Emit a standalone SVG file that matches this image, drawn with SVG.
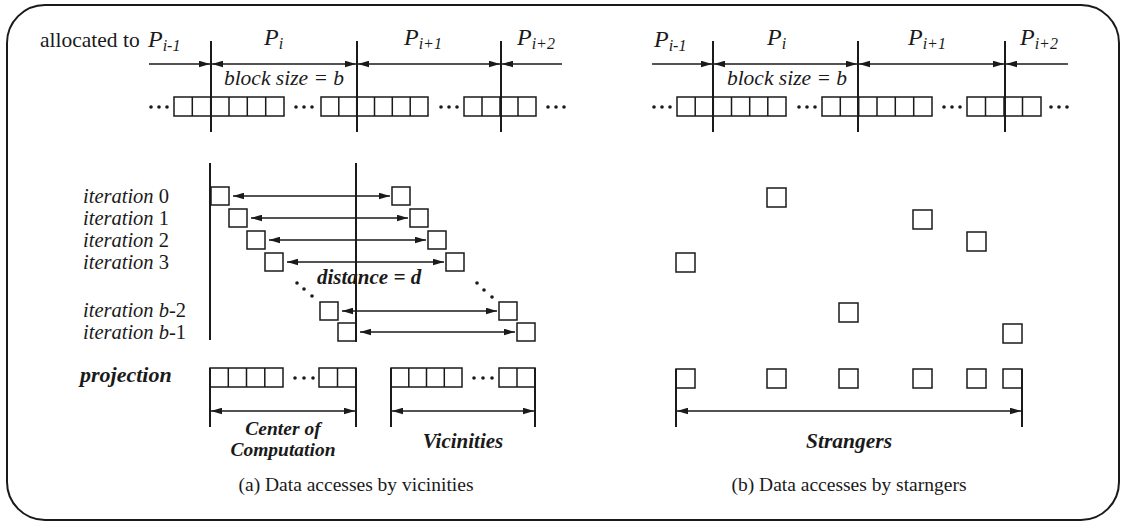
<svg xmlns="http://www.w3.org/2000/svg" width="1125" height="523" viewBox="0 0 1125 523">
<defs>
<marker id="ah" viewBox="0 0 10 6" refX="10" refY="3" markerWidth="11" markerHeight="7" markerUnits="userSpaceOnUse" orient="auto-start-reverse">
<path d="M0,0 L10,3 L0,6 z" fill="#1a1a1a"/>
</marker>
</defs>
<style>
.t{font-family:"Liberation Serif","Times New Roman",serif;fill:#1a1a1a}
.it{font-style:italic}
.bi{font-style:italic;font-weight:bold}
.cap{font-size:19.5px}
.lab{font-size:21.5px}
.lab2{font-size:21px}
.itl{font-size:20.5px}
.P{font-size:24px;font-style:italic}
.sub{font-size:16px}
.cell{fill:none;stroke:#1a1a1a;stroke-width:1.5}
.vl{stroke:#1a1a1a;stroke-width:2;fill:none}
.ar{stroke:#1a1a1a;stroke-width:1.5;fill:none}
.dot{fill:#1a1a1a}
</style>
<rect x="7" y="5" width="1112" height="515" rx="38" fill="#fff" stroke="#1a1a1a" stroke-width="2"/>

<!-- ===== Panel (a) ===== -->
<g id="a-header">
<text class="t lab" x="40" y="47">allocated to</text>
<text class="t P" x="148" y="47">P<tspan class="sub" dy="4">i-1</tspan></text>
<text class="t P" x="264" y="45">P<tspan class="sub" dy="4">i</tspan></text>
<text class="t P" x="404" y="45">P<tspan class="sub" dy="4">i+1</tspan></text>
<text class="t P" x="517" y="45">P<tspan class="sub" dy="4">i+2</tspan></text>
<text class="t it lab" x="284" y="85" text-anchor="middle">block size = b</text>
</g>
<g id="a-dividers">
<line class="vl" x1="211" y1="41" x2="211" y2="132"/>
<line class="vl" x1="357" y1="41" x2="357" y2="132"/>
<line class="vl" x1="501" y1="41" x2="501" y2="132"/>
</g>
<g id="a-array">
<rect class="cell" x="174" y="97" width="110" height="19"/>
<path class="cell" d="M192.3,97v19M210.7,97v19M229,97v19M247.3,97v19M265.7,97v19"/>
<rect class="cell" x="321" y="97" width="107" height="19"/>
<path class="cell" d="M338.8,97v19M356.7,97v19M374.5,97v19M392.3,97v19M410.2,97v19"/>
<rect class="cell" x="464" y="97" width="72" height="19"/>
<path class="cell" d="M482,97v19M500,97v19M518,97v19"/>
<circle class="dot" cx="151" cy="107" r="1.8"/><circle class="dot" cx="159" cy="107" r="1.8"/><circle class="dot" cx="167" cy="107" r="1.8"/>
<circle class="dot" cx="296" cy="107" r="1.8"/><circle class="dot" cx="304" cy="107" r="1.8"/><circle class="dot" cx="312" cy="107" r="1.8"/>
<circle class="dot" cx="441" cy="107" r="1.8"/><circle class="dot" cx="449" cy="107" r="1.8"/><circle class="dot" cx="457" cy="107" r="1.8"/>
<circle class="dot" cx="548" cy="107" r="1.8"/><circle class="dot" cx="556" cy="107" r="1.8"/><circle class="dot" cx="564" cy="107" r="1.8"/>
</g>

<g id="a-iterations">
<line class="vl" x1="210" y1="163" x2="210" y2="340"/>
<line class="vl" x1="356" y1="163" x2="356" y2="342"/>
<text class="t it itl" x="83" y="203">iteration <tspan font-style="normal">0</tspan></text>
<text class="t it itl" x="83" y="225">iteration <tspan font-style="normal">1</tspan></text>
<text class="t it itl" x="83" y="247">iteration <tspan font-style="normal">2</tspan></text>
<text class="t it itl" x="83" y="269">iteration <tspan font-style="normal">3</tspan></text>
<text class="t it itl" x="83" y="317">iteration b<tspan font-style="normal">-2</tspan></text>
<text class="t it itl" x="83" y="339">iteration b<tspan font-style="normal">-1</tspan></text>
</g>
<g id="a-center-boxes">
<rect class="cell" x="211" y="187" width="18" height="18"/>
<rect class="cell" x="229" y="209" width="18" height="18"/>
<rect class="cell" x="247" y="231" width="18" height="18"/>
<rect class="cell" x="265" y="253" width="18" height="18"/>
<rect class="cell" x="320" y="302" width="18" height="18"/>
<rect class="cell" x="338" y="323" width="18" height="18"/>
<circle class="dot" cx="297" cy="283" r="1.8"/><circle class="dot" cx="304" cy="289" r="1.8"/><circle class="dot" cx="312" cy="296" r="1.8"/>
</g>
<g id="a-vicinity-boxes">
<rect class="cell" x="392" y="187" width="18" height="18"/>
<rect class="cell" x="410" y="209" width="18" height="18"/>
<rect class="cell" x="428" y="231" width="18" height="18"/>
<rect class="cell" x="446" y="253" width="18" height="18"/>
<rect class="cell" x="499" y="302" width="18" height="18"/>
<rect class="cell" x="517" y="323" width="18" height="18"/>
<circle class="dot" cx="477" cy="283" r="1.8"/><circle class="dot" cx="484" cy="290" r="1.8"/><circle class="dot" cx="492" cy="297" r="1.8"/>
</g>
<g id="a-distance-label">
<text class="t bi lab2" x="317" y="284">distance = d</text>
</g>

<g id="a-projection">
<text class="t bi" font-size="22px" x="80" y="382">projection</text>
<rect class="cell" x="210" y="368" width="73" height="19"/>
<path class="cell" d="M228.3,368v19M246.5,368v19M264.8,368v19"/>
<circle class="dot" cx="295" cy="378" r="1.8"/><circle class="dot" cx="304" cy="378" r="1.8"/><circle class="dot" cx="313" cy="378" r="1.8"/>
<rect class="cell" x="319" y="368" width="37" height="19"/>
<path class="cell" d="M337.5,368v19"/>
<line class="vl" x1="210" y1="368" x2="210" y2="427"/>
<line class="vl" x1="356" y1="368" x2="356" y2="427"/>
<text class="t bi" font-size="19.5px" text-anchor="middle"><tspan x="283" y="435">Center of</tspan><tspan x="283" y="456">Computation</tspan></text>
<rect class="cell" x="391" y="368" width="71" height="19"/>
<path class="cell" d="M408.8,368v19M426.5,368v19M444.3,368v19"/>
<circle class="dot" cx="474" cy="378" r="1.8"/><circle class="dot" cx="483" cy="378" r="1.8"/><circle class="dot" cx="492" cy="378" r="1.8"/>
<rect class="cell" x="499" y="368" width="36" height="19"/>
<path class="cell" d="M517,368v19"/>
<line class="vl" x1="391" y1="368" x2="391" y2="427"/>
<line class="vl" x1="535" y1="368" x2="535" y2="427"/>
<text class="t bi lab2" x="463" y="448" text-anchor="middle">Vicinities</text>
</g>
<g id="a-caption">
<text class="t cap" x="356" y="491" text-anchor="middle">(a) Data accesses by vicinities</text>
</g>

<!-- ===== Panel (b) ===== -->
<g id="b-header">
<text class="t P" x="654" y="47">P<tspan class="sub" dy="4">i-1</tspan></text>
<text class="t P" x="767" y="45">P<tspan class="sub" dy="4">i</tspan></text>
<text class="t P" x="908" y="45">P<tspan class="sub" dy="4">i+1</tspan></text>
<text class="t P" x="1020" y="45">P<tspan class="sub" dy="4">i+2</tspan></text>
<text class="t it lab" x="787" y="85" text-anchor="middle">block size = b</text>
</g>
<g id="b-dividers">
<line class="vl" x1="713" y1="41" x2="713" y2="132"/>
<line class="vl" x1="858" y1="41" x2="858" y2="132"/>
<line class="vl" x1="1005" y1="41" x2="1005" y2="132"/>
</g>
<g id="b-array">
<rect class="cell" x="677" y="97" width="109" height="19"/>
<path class="cell" d="M695.2,97v19M713.3,97v19M731.5,97v19M749.7,97v19M767.8,97v19"/>
<rect class="cell" x="822" y="97" width="110" height="19"/>
<path class="cell" d="M840.3,97v19M858.7,97v19M877,97v19M895.3,97v19M913.7,97v19"/>
<rect class="cell" x="967" y="97" width="74" height="19"/>
<path class="cell" d="M985.5,97v19M1004,97v19M1022.5,97v19"/>
<circle class="dot" cx="654" cy="107" r="1.8"/><circle class="dot" cx="662" cy="107" r="1.8"/><circle class="dot" cx="670" cy="107" r="1.8"/>
<circle class="dot" cx="799" cy="107" r="1.8"/><circle class="dot" cx="807" cy="107" r="1.8"/><circle class="dot" cx="815" cy="107" r="1.8"/>
<circle class="dot" cx="944" cy="107" r="1.8"/><circle class="dot" cx="952" cy="107" r="1.8"/><circle class="dot" cx="960" cy="107" r="1.8"/>
<circle class="dot" cx="1051" cy="107" r="1.8"/><circle class="dot" cx="1059" cy="107" r="1.8"/><circle class="dot" cx="1067" cy="107" r="1.8"/>
</g>
<g id="b-accesses">
<rect class="cell" x="767" y="188" width="19" height="19"/>
<rect class="cell" x="913" y="210" width="19" height="19"/>
<rect class="cell" x="967" y="232" width="19" height="19"/>
<rect class="cell" x="676" y="253" width="19" height="19"/>
<rect class="cell" x="839" y="303" width="19" height="19"/>
<rect class="cell" x="1003" y="324" width="19" height="19"/>
</g>
<g id="b-projection">
<rect class="cell" x="676" y="369" width="19" height="19"/>
<rect class="cell" x="767" y="369" width="19" height="19"/>
<rect class="cell" x="839" y="369" width="19" height="19"/>
<rect class="cell" x="913" y="369" width="19" height="19"/>
<rect class="cell" x="967" y="369" width="19" height="19"/>
<rect class="cell" x="1003" y="369" width="19" height="19"/>
<line class="vl" x1="676" y1="369" x2="676" y2="427"/>
<line class="vl" x1="1022" y1="369" x2="1022" y2="427"/>
<text class="t bi lab" x="849" y="448" text-anchor="middle">Strangers</text>
</g>
<g id="b-caption">
<text class="t cap" x="849" y="491" text-anchor="middle">(b) Data accesses by starngers</text>
</g>

<g id="connectors">
<line class="ar" x1="149" y1="64" x2="210" y2="64" marker-end="url(#ah)"/>
<line class="ar" x1="212" y1="64" x2="356" y2="64" marker-start="url(#ah)" marker-end="url(#ah)"/>
<line class="ar" x1="358" y1="64" x2="500" y2="64" marker-start="url(#ah)" marker-end="url(#ah)"/>
<line class="ar" x1="562" y1="64" x2="502" y2="64" marker-end="url(#ah)"/>
<line class="ar" x1="233" y1="196" x2="390" y2="196" marker-start="url(#ah)" marker-end="url(#ah)"/>
<line class="ar" x1="251" y1="218" x2="408" y2="218" marker-start="url(#ah)" marker-end="url(#ah)"/>
<line class="ar" x1="269" y1="240" x2="426" y2="240" marker-start="url(#ah)" marker-end="url(#ah)"/>
<line class="ar" x1="287" y1="262" x2="444" y2="262" marker-start="url(#ah)" marker-end="url(#ah)"/>
<line class="ar" x1="342" y1="311" x2="497" y2="311" marker-start="url(#ah)" marker-end="url(#ah)"/>
<line class="ar" x1="360" y1="332" x2="515" y2="332" marker-start="url(#ah)" marker-end="url(#ah)"/>
<line class="ar" x1="211" y1="411" x2="355" y2="411" marker-start="url(#ah)" marker-end="url(#ah)"/>
<line class="ar" x1="392" y1="411" x2="534" y2="411" marker-start="url(#ah)" marker-end="url(#ah)"/>
<line class="ar" x1="652" y1="64" x2="712" y2="64" marker-end="url(#ah)"/>
<line class="ar" x1="714" y1="64" x2="857" y2="64" marker-start="url(#ah)" marker-end="url(#ah)"/>
<line class="ar" x1="859" y1="64" x2="1004" y2="64" marker-start="url(#ah)" marker-end="url(#ah)"/>
<line class="ar" x1="1068" y1="64" x2="1006" y2="64" marker-end="url(#ah)"/>
<line class="ar" x1="677" y1="411" x2="1021" y2="411" marker-start="url(#ah)" marker-end="url(#ah)"/>
</g>
</svg>
